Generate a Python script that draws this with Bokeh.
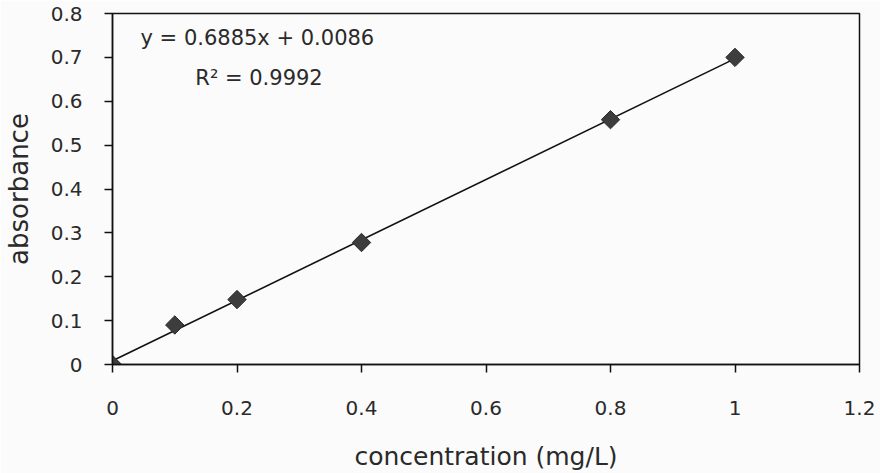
from bokeh.plotting import figure
from bokeh.models import FixedTicker, Label, Range1d, ColumnDataSource
from bokeh.embed import file_html
from bokeh.resources import INLINE
import math

concentration = [0, 0.1, 0.2, 0.4, 0.8, 1.0]
absorbance = [0.0, 0.09, 0.148, 0.278, 0.558, 0.70]
slope = 0.6885
intercept = 0.0086
fit_x = [0, 1.0]
x_ticks = [0, 0.2, 0.4, 0.6, 0.8, 1.0, 1.2]
y_ticks = [0, 0.1, 0.2, 0.3, 0.4, 0.5, 0.6, 0.7, 0.8]
eq_text = "y = 0.6885x + 0.0086"
r2_text = "R² = 0.9992"

FONT = "DejaVu Sans"
TXT = "#2a2a2a"

p = figure(width=880, height=473, output_backend="svg", toolbar_location=None,
           x_range=Range1d(0, 1.2), y_range=Range1d(0, 0.8),
           min_border_left=112, min_border_right=21, min_border_top=13, min_border_bottom=109,
           background_fill_color="#fbfbfb", border_fill_color="#fbfbfb")
p.grid.visible = False
p.outline_line_color = "#111111"
p.outline_line_width = 1.5

fit_y = [slope * x + intercept for x in fit_x]
p.line(fit_x, fit_y, line_color="#111111", line_width=1.6)

src = ColumnDataSource(dict(x=concentration, y=absorbance))
p.scatter("x", "y", source=src, marker="square", size=13, angle=math.pi / 4,
          fill_color="#3d3d3d", line_color="#2a2a2a")

for ax in (p.xaxis[0], p.yaxis[0]):
    ax.axis_line_color = "#111111"
    ax.axis_line_width = 1.5
    ax.major_tick_line_color = "#111111"
    ax.major_tick_line_width = 1.5
    ax.major_tick_out = 8
    ax.major_tick_in = 0
    ax.minor_tick_line_color = None
    ax.major_label_text_font = FONT
    ax.major_label_text_font_size = "20px"
    ax.major_label_text_color = TXT
    ax.axis_label_text_font = FONT
    ax.axis_label_text_font_style = "normal"
    ax.axis_label_text_color = TXT

p.xaxis.axis_label_text_font_size = "25px"
p.yaxis.axis_label_text_font_size = "26px"
p.xaxis.ticker = FixedTicker(ticks=x_ticks)
p.yaxis.ticker = FixedTicker(ticks=y_ticks)
p.xaxis.major_label_overrides = {0.0: "0", 1.0: "1"}
p.yaxis.major_label_overrides = {0.0: "0"}
p.xaxis.major_label_standoff = 28
p.yaxis.major_label_standoff = 22
p.xaxis.axis_label = "concentration (mg/L)"
p.yaxis.axis_label = "absorbance"
p.xaxis.axis_label_standoff = 24
p.yaxis.axis_label_standoff = 14

p.add_layout(Label(x=0.045, y=0.745, text=eq_text, text_font=FONT, text_font_size="21px",
                   text_color=TXT, text_baseline="middle"))
p.add_layout(Label(x=0.133, y=0.652, text=r2_text, text_font=FONT, text_font_size="21px",
                   text_color=TXT, text_baseline="middle"))

open("out.html", "w").write(file_html(p, INLINE))
